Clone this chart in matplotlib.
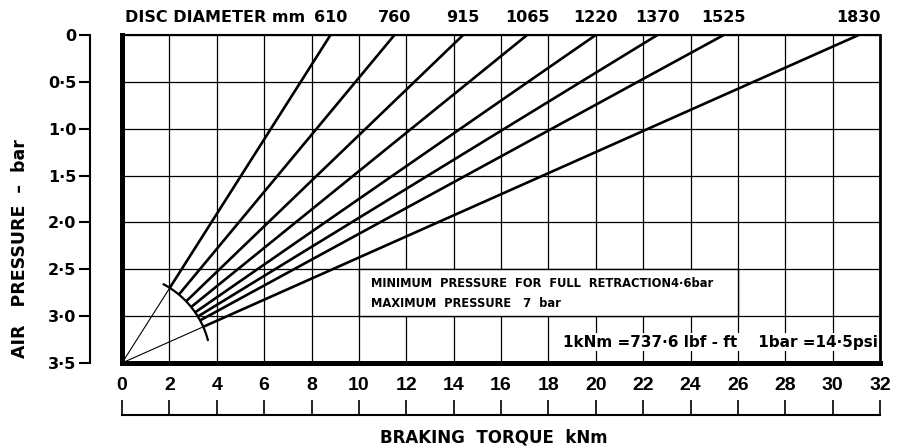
import numpy as np
import matplotlib.pyplot as plt
from matplotlib.patches import Rectangle

plt.rcParams['font.family'] = ['DejaVu Sans']
plt.rcParams['font.weight'] = 'bold'

# disc diameters (mm) and the torque each line reaches at 0 bar
diameters = [610, 760, 915, 1065, 1220, 1370, 1525, 1830]
torque_at_zero = [8.8, 11.5, 14.4, 17.1, 20.0, 22.6, 25.4, 31.1]
p_max = 3.5  # all lines meet at zero torque, 3.5 bar

x_ticks = list(range(0, 33, 2))
y_ticks = [0, 0.5, 1.0, 1.5, 2.0, 2.5, 3.0, 3.5]
y_labels = ['0', '0·5', '1·0', '1·5', '2·0', '2·5', '3·0', '3·5']

# arc that cuts the lines near the origin (semi axes in data units)
arc_rx, arc_ry = 3.75, 0.95


def plot_chart():
    fig = plt.figure(figsize=(8.98, 4.47), dpi=100)
    ax = fig.add_axes([0.1359, 0.188, 0.8441, 0.7337])
    ax.set_xlim(0, 32)
    ax.set_ylim(p_max, 0)

    ax.set_xticks(x_ticks, labels=[str(v) for v in x_ticks],
                  family='Liberation Sans', fontsize=14, fontweight='bold')
    ax.set_yticks(y_ticks)
    ax.grid(True, color='black', lw=0.9)
    ax.set_axisbelow(True)
    ax.tick_params(axis='x', length=0, pad=10)
    ax.tick_params(axis='y', length=0, labelleft=False)

    ax.spines['left'].set_linewidth(3.6)
    ax.spines['bottom'].set_linewidth(3.6)
    ax.spines['right'].set_linewidth(2.0)
    ax.spines['top'].set_linewidth(1.5)

    # rays from the origin point
    for d, xt in zip(diameters, torque_at_zero):
        t = 1.0 / np.sqrt((xt / arc_rx) ** 2 + (p_max / arc_ry) ** 2)
        x0, y0 = t * xt, p_max - t * p_max
        ax.plot([x0, xt], [y0, 0], color='black', lw=1.9, solid_capstyle='butt', zorder=3)
        if d in (diameters[0], diameters[-1]):
            ax.plot([0, x0], [p_max, y0], color='black', lw=0.8, zorder=3)
        ax.text(xt, 1.052, str(d), transform=ax.get_xaxis_transform(),
                ha='center', va='center', fontsize=11.5)

    ax.text(7.75, 1.052, 'DISC DIAMETER mm', transform=ax.get_xaxis_transform(),
            ha='right', va='center', fontsize=11.5)

    th = np.radians(np.linspace(15, 62, 60))
    ax.plot(arc_rx * np.cos(th), p_max - arc_ry * np.sin(th), color='black', lw=1.6, zorder=3)

    # note box
    ax.add_patch(Rectangle((10, 2.5), 16, 0.5, facecolor='white', edgecolor='black',
                           lw=1.0, zorder=2))
    ax.text(10.5, 2.65, 'MINIMUM  PRESSURE  FOR  FULL  RETRACTION4·6bar',
            fontsize=8.3, va='center', zorder=4)
    ax.text(10.5, 2.87, 'MAXIMUM  PRESSURE   7  bar',
            fontsize=8.3, va='center', zorder=4)
    ax.text(31.9, 3.28, '1kNm =737·6 lbf - ft    1bar =14·5psi', ha='right', va='center',
            fontsize=11, zorder=4,
            bbox=dict(facecolor='white', edgecolor='none', pad=1))

    # separate scale bars
    sx = ax.secondary_xaxis(-0.158)
    sx.set_xticks(x_ticks, labels=[])
    sx.tick_params(direction='in', length=11, width=1.2)
    sx.spines['bottom'].set_linewidth(1.5)

    sy = ax.secondary_yaxis(-0.042)
    sy.set_yticks(y_ticks, labels=y_labels)
    sy.tick_params(direction='out', length=8, width=1.5, labelsize=11.5, pad=2)
    sy.spines['left'].set_linewidth(1.5)

    fig.text(0.022, 0.445, 'AIR   PRESSURE  –  bar', rotation=90, ha='center', va='center',
             fontsize=12.5)
    fig.text(0.55, 0.022, 'BRAKING  TORQUE  kNm', ha='center', va='center',
             fontsize=12)

    fig.savefig('out.png', dpi=100)


if __name__ == "__main__":
    plot_chart()
